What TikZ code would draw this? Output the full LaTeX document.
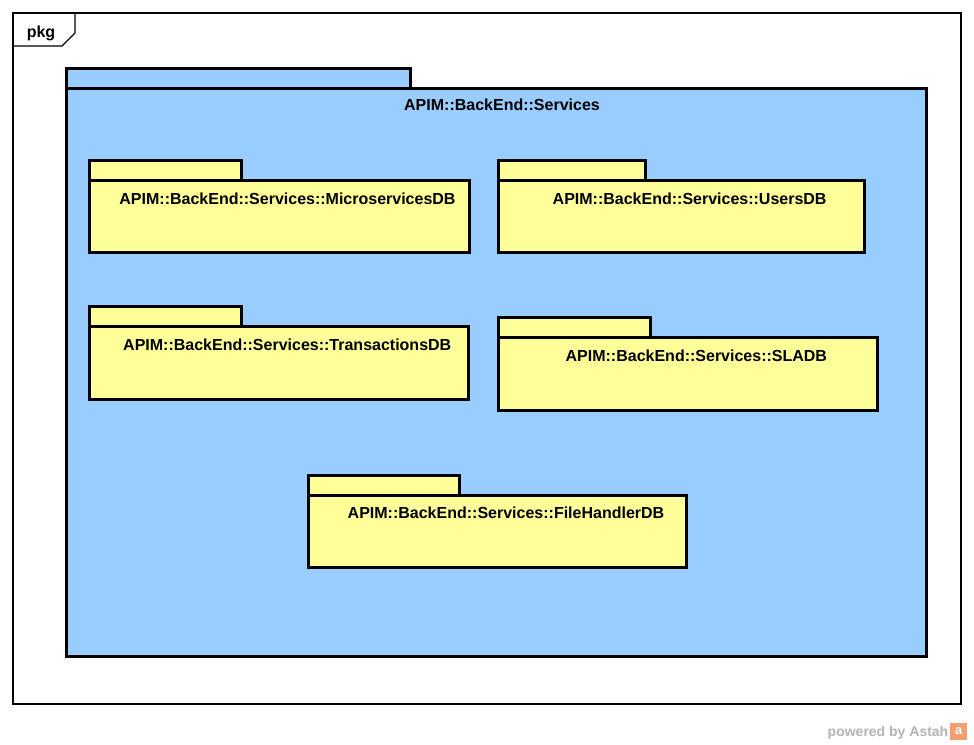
\documentclass[tikz,border=0pt]{standalone}
\usepackage{fontspec}
\setmainfont{Liberation Sans}
\begin{document}
\begin{tikzpicture}[x=1pt,y=-1pt,
  pkgline/.style={line width=3pt, line join=miter},
  bluefill/.style={pkgline, fill=pkgblue},
  yelfill/.style={pkgline, fill=pkgyellow},
  lbl/.style={anchor=base, inner sep=0pt, font=\fontsize{16}{19}\selectfont\bfseries}]
\definecolor{pkgblue}{HTML}{99CCFF}
\definecolor{pkgyellow}{HTML}{FFFF99}
\definecolor{astahgray}{HTML}{B4B4B4}
\definecolor{astahorange}{HTML}{F0A070}
\useasboundingbox[fill=white] (0,0) rectangle (974,744);
% frame
\draw[line width=1.3pt] (13,13) rectangle (961,704);
\draw[line width=1.3pt] (13,46) -- (62,46) -- (75,33) -- (75,13);
\node[lbl] (pkglbl) at (41,37) {pkg};
% outer package
\draw[bluefill] (66,68) rectangle (410.5,88);
\draw[bluefill] (66,88) rectangle (926,656);
\node[lbl] (outer) at (502,110.7) {APIM::BackEnd::Services};
% inner packages
\newcommand{\mypkg}[7]{%
  \draw[yelfill] (#1,#2) rectangle (#3,#2+20);
  \draw[yelfill] (#1,#2+20) rectangle (#4,#5);
  \node[lbl] (#6) at ({(#1+#4)/2+8.5},#2+43.5) {#7};}
\mypkg{89}{160.5}{241.5}{469}{252.7}{micro}{APIM::BackEnd::Services::MicroservicesDB}
\mypkg{498}{160.5}{645.7}{864.3}{252.7}{users}{APIM::BackEnd::Services::UsersDB}
\mypkg{89}{306.5}{241.5}{468.5}{399.5}{trans}{APIM::BackEnd::Services::TransactionsDB}
\mypkg{498}{317.5}{650.7}{877.7}{410}{sla}{APIM::BackEnd::Services::SLADB}
\mypkg{308.3}{475}{459.3}{686.7}{567.7}{file}{APIM::BackEnd::Services::FileHandlerDB}
% powered by astah
\node[anchor=base east, inner sep=0pt, text=astahgray, font=\fontsize{14}{16}\selectfont\bfseries] (pow) at (948.5,736) {powered by Astah};
\node[fill=astahorange, minimum width=17pt, minimum height=17pt, inner sep=0pt, anchor=south west, text=white, font=\fontsize{13}{13}\selectfont\bfseries] (logo) at (950,740) {a};
\end{tikzpicture}
\end{document}
